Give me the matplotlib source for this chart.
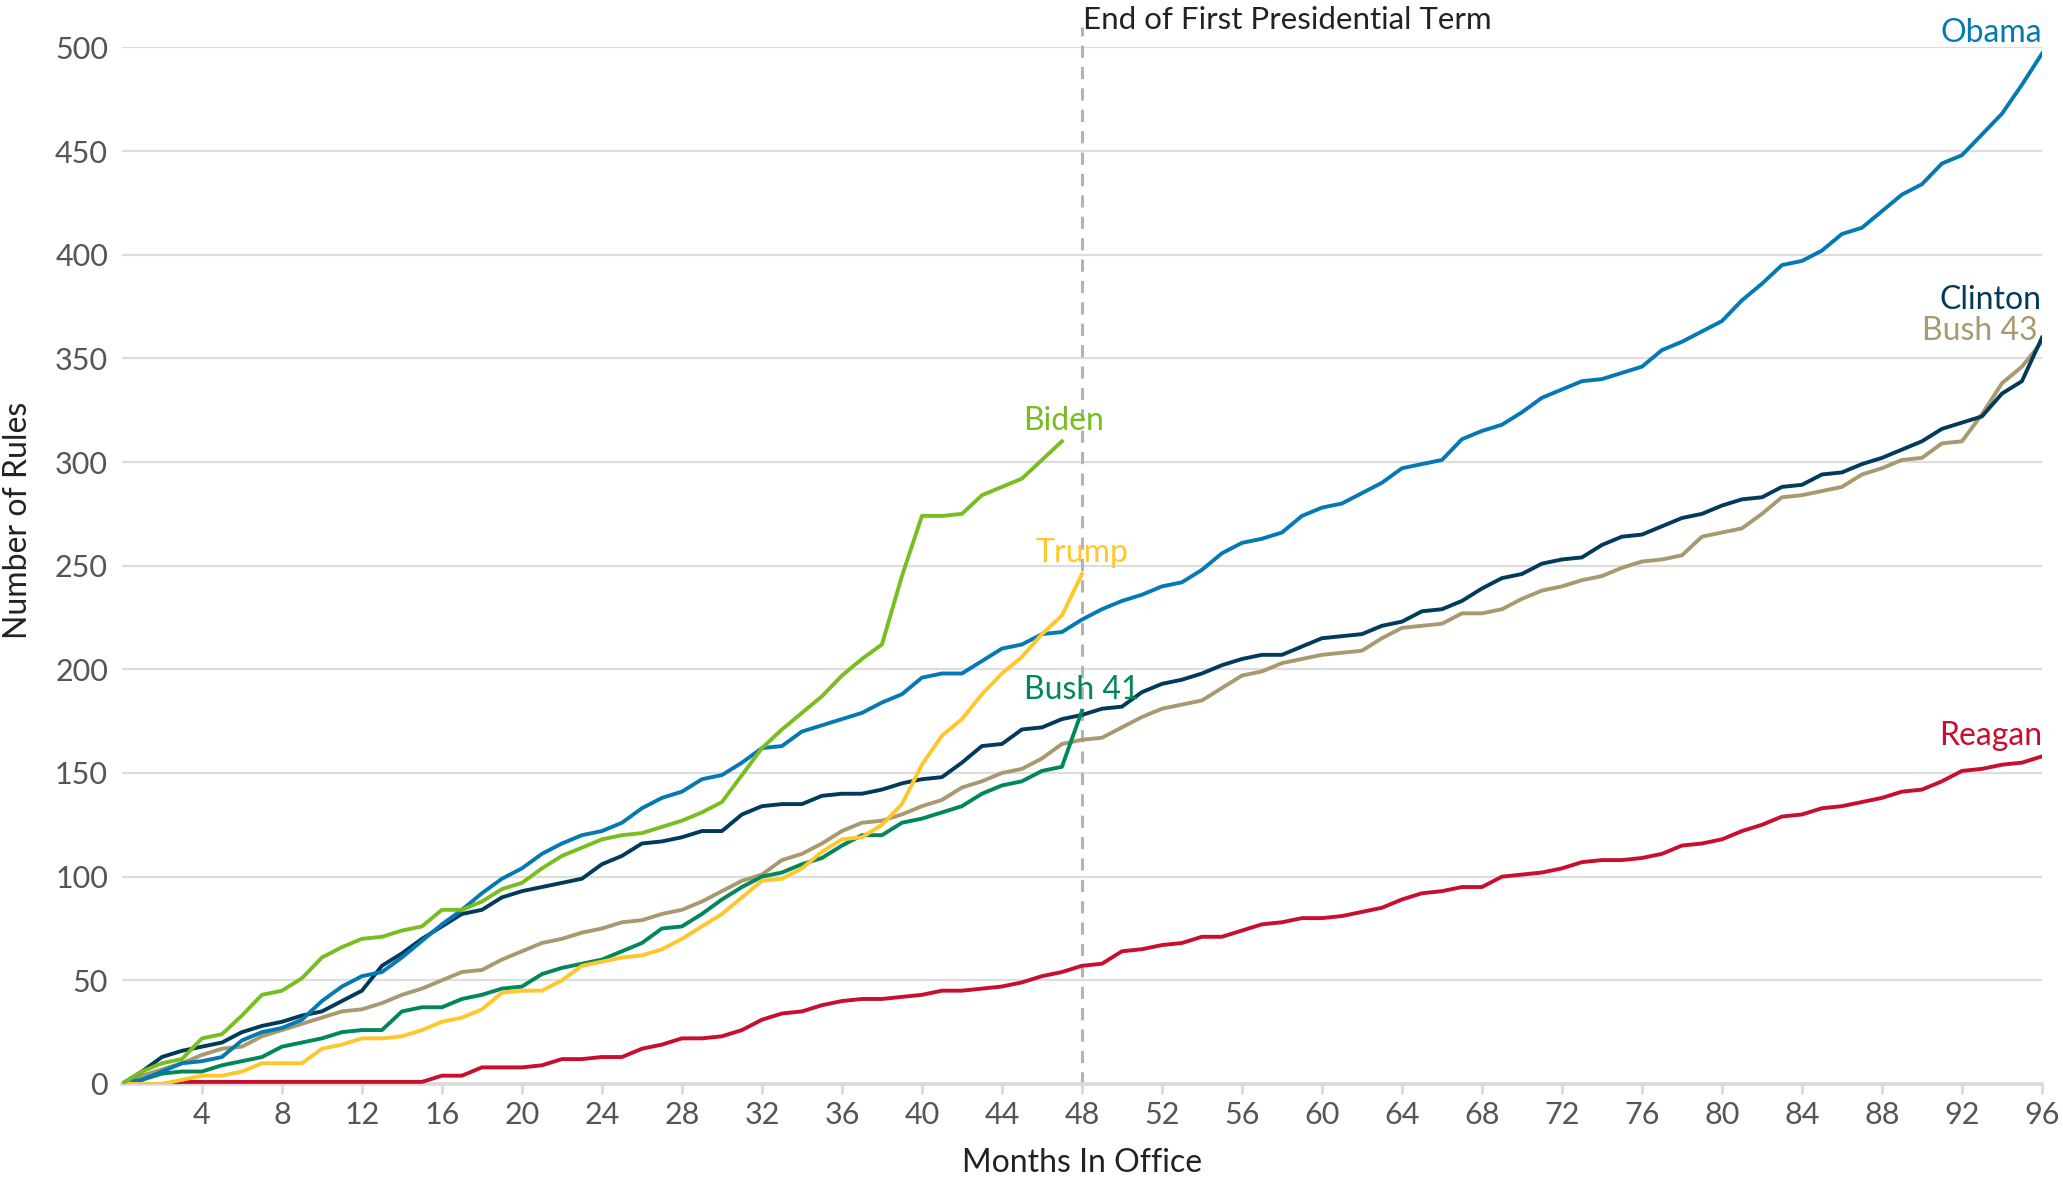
import numpy as np
from matplotlib import pyplot as plt

# Cumulative number of rules by months in office
obama = [0, 2, 6, 10, 11, 13, 21, 25, 27, 31, 40, 47, 52, 54, 61, 69, 77, 84, 92, 99,
         104, 111, 116, 120, 122, 126, 133, 138, 141, 147, 149, 155, 162, 163, 170, 173, 176, 179, 184, 188,
         196, 198, 198, 204, 210, 212, 217, 218, 224, 229, 233, 236, 240, 242, 248, 256, 261, 263, 266, 274,
         278, 280, 285, 290, 297, 299, 301, 311, 315, 318, 324, 331, 335, 339, 340, 343, 346, 354, 358, 363,
         368, 378, 386, 395, 397, 402, 410, 413, 421, 429, 434, 444, 448, 458, 468, 482, 497]
clinton = [0, 6, 13, 16, 18, 20, 25, 28, 30, 33, 35, 40, 45, 57, 63, 70, 76, 82, 84, 90,
           93, 95, 97, 99, 106, 110, 116, 117, 119, 122, 122, 130, 134, 135, 135, 139, 140, 140, 142, 145,
           147, 148, 155, 163, 164, 171, 172, 176, 178, 181, 182, 189, 193, 195, 198, 202, 205, 207, 207, 211,
           215, 216, 217, 221, 223, 228, 229, 233, 239, 244, 246, 251, 253, 254, 260, 264, 265, 269, 273, 275,
           279, 282, 283, 288, 289, 294, 295, 299, 302, 306, 310, 316, 319, 322, 333, 339, 360]
bush43 = [0, 4, 7, 10, 14, 17, 18, 23, 26, 29, 32, 35, 36, 39, 43, 46, 50, 54, 55, 60,
          64, 68, 70, 73, 75, 78, 79, 82, 84, 88, 93, 98, 101, 108, 111, 116, 122, 126, 127, 130,
          134, 137, 143, 146, 150, 152, 157, 164, 166, 167, 172, 177, 181, 183, 185, 191, 197, 199, 203, 205,
          207, 208, 209, 215, 220, 221, 222, 227, 227, 229, 234, 238, 240, 243, 245, 249, 252, 253, 255, 264,
          266, 268, 275, 283, 284, 286, 288, 294, 297, 301, 302, 309, 310, 323, 338, 346, 358]
reagan = [0, 0, 0, 1, 1, 1, 1, 1, 1, 1, 1, 1, 1, 1, 1, 1, 4, 4, 8, 8,
          8, 9, 12, 12, 13, 13, 17, 19, 22, 22, 23, 26, 31, 34, 35, 38, 40, 41, 41, 42,
          43, 45, 45, 46, 47, 49, 52, 54, 57, 58, 64, 65, 67, 68, 71, 71, 74, 77, 78, 80,
          80, 81, 83, 85, 89, 92, 93, 95, 95, 100, 101, 102, 104, 107, 108, 108, 109, 111, 115, 116,
          118, 122, 125, 129, 130, 133, 134, 136, 138, 141, 142, 146, 151, 152, 154, 155, 158]
biden = [0, 6, 10, 12, 22, 24, 33, 43, 45, 51, 61, 66, 70, 71, 74, 76, 84, 84, 88, 94,
         97, 104, 110, 114, 118, 120, 121, 124, 127, 131, 136, 149, 162, 171, 179, 187, 197, 205, 212, 245,
         274, 274, 275, 284, 288, 292, 301, 310]
trump = [0, 0, 0, 2, 4, 4, 6, 10, 10, 10, 17, 19, 22, 22, 23, 26, 30, 32, 36, 44,
         45, 45, 50, 57, 59, 61, 62, 65, 70, 76, 82, 90, 98, 99, 104, 112, 118, 119, 125, 135,
         154, 168, 176, 188, 198, 206, 217, 226, 246]
bush41 = [0, 2, 5, 6, 6, 9, 11, 13, 18, 20, 22, 25, 26, 26, 35, 37, 37, 41, 43, 46,
          47, 53, 56, 58, 60, 64, 68, 75, 76, 82, 89, 95, 100, 102, 106, 109, 115, 120, 120, 126,
          128, 131, 134, 140, 144, 146, 151, 153, 180]

x_ticks = list(range(4, 97, 4))
y_ticks = list(range(0, 501, 50))

colors = {
    'Obama': '#0479b4',
    'Clinton': '#003b5c',
    'Bush 43': '#a8996e',
    'Reagan': '#c8102e',
    'Biden': '#78be20',
    'Trump': '#ffc72c',
    'Bush 41': '#00875a',
}

plt.rcParams['font.family'] = ['Lato', 'DejaVu Sans']

fig = plt.figure(figsize=(20.63, 11.79), dpi=100)
ax = fig.add_axes([0.0591, 0.0806, 0.9307, 0.8792])

series = [('Reagan', reagan), ('Bush 43', bush43), ('Clinton', clinton),
          ('Bush 41', bush41), ('Obama', obama), ('Trump', trump), ('Biden', biden)]
for name, vals in series:
    ax.plot(np.arange(len(vals)), vals, color=colors[name], lw=2.8,
            solid_joinstyle='round', zorder=3)

# end of first term marker
ax.plot([48, 48], [0, 510], color='#b3b3b3', lw=2.2, ls=(0, (4, 3)), clip_on=False, zorder=2)
ax.text(48.05, 513, 'End of First Presidential Term', fontsize=22.5, color='#222222',
        ha='left', va='center')

# series labels
lab = 23
ax.text(96, 507, 'Obama', color=colors['Obama'], fontsize=lab, ha='right', va='center')
ax.text(96, 378, 'Clinton', color=colors['Clinton'], fontsize=lab, ha='right', va='center')
ax.text(95.8, 363, 'Bush 43', color=colors['Bush 43'], fontsize=lab, ha='right', va='center')
ax.text(96, 168, 'Reagan', color=colors['Reagan'], fontsize=lab, ha='right', va='center')
ax.text(47.1, 320, 'Biden', color=colors['Biden'], fontsize=lab, ha='center', va='center')
ax.text(48, 256, 'Trump', color=colors['Trump'], fontsize=lab, ha='center', va='center')
ax.text(48, 190, 'Bush 41', color=colors['Bush 41'], fontsize=lab, ha='center', va='center')

ax.set_xlim(0, 96)
ax.set_ylim(0, 500)
ax.set_xticks(x_ticks)
ax.set_yticks(y_ticks)
ax.tick_params(axis='x', length=7, width=2, color='#d9d9d9', labelsize=22,
               labelcolor='#555555', pad=5)
ax.tick_params(axis='y', length=0, labelsize=22, labelcolor='#555555', pad=10)
ax.yaxis.grid(True, color='#dddddd', lw=1.6, zorder=0)
ax.set_axisbelow(True)
for s in ['top', 'right', 'left']:
    ax.spines[s].set_visible(False)
ax.spines['bottom'].set_color('#d9d9d9')
ax.spines['bottom'].set_linewidth(2.6)

fig.text(0.5245, 0.0135, 'Months In Office', fontsize=23, color='#222222', ha='center', va='center')
fig.text(0.0085, 0.559, 'Number of Rules', fontsize=23, color='#222222', ha='center', va='center',
         rotation=90)

fig.savefig('out.png', dpi=100)
